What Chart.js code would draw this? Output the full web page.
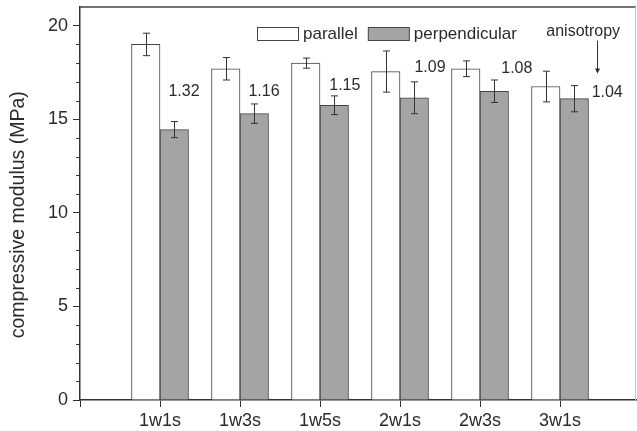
<!DOCTYPE html>
<html>
<head>
<meta charset="utf-8">
<script src="https://cdn.jsdelivr.net/npm/chart.js@4.4.0/dist/chart.umd.min.js"></script>
<style>
  html, body { margin: 0; background: #fff; }
  #wrap { width: 637px; height: 431px; }
</style>
</head>
<body>
<div id="wrap"><canvas id="chart"></canvas></div>
<script>
const samples = ['1w1s', '1w3s', '1w5s', '2w1s', '2w3s', '3w1s'];
const parallel = [19.0, 17.7, 18.0, 17.55, 17.7, 16.75];
const parallelErr = [0.6, 0.6, 0.27, 1.1, 0.42, 0.82];
const perpendicular = [14.45, 15.3, 15.75, 16.15, 16.5, 16.1];
const perpendicularErr = [0.43, 0.52, 0.5, 0.85, 0.6, 0.7];
const anisotropy = ['1.32', '1.16', '1.15', '1.09', '1.08', '1.04'];
const yTicks = [0, 5, 10, 15, 20];

// where the ratio labels sit, in axis units (x = sample index, y = MPa)
const ratioAt = [[0.3, 16.5], [1.3, 16.5], [2.31, 16.8], [3.375, 17.75], [4.46, 17.7], [5.59, 16.45]];

const INK = '#2b2b2b';
const FONT = '"Liberation Sans", Arial, sans-serif';
Chart.defaults.font.family = FONT;
Chart.defaults.color = INK;

const errorBars = {
  id: 'errorBars',
  afterDatasetsDraw(chart) {
    const { ctx, scales: { y } } = chart;
    ctx.save();
    ctx.strokeStyle = '#333';
    ctx.lineWidth = 1;
    chart.data.datasets.forEach((ds, di) => {
      chart.getDatasetMeta(di).data.forEach((bar, i) => {
        const v = ds.data[i].y, e = ds.errors[i];
        const top = y.getPixelForValue(v + e), bot = y.getPixelForValue(v - e);
        const x = Math.round(bar.x) + 0.5;
        ctx.beginPath();
        ctx.moveTo(x, top); ctx.lineTo(x, bot);
        ctx.moveTo(x - 3.5, top); ctx.lineTo(x + 3.5, top);
        ctx.moveTo(x - 3.5, bot); ctx.lineTo(x + 3.5, bot);
        ctx.stroke();
      });
    });
    ctx.restore();
  }
};

const extras = {
  id: 'extras',
  afterDraw(chart) {
    const { ctx, chartArea: a, scales: { x, y } } = chart;
    ctx.save();
    // frame: top and right edge
    ctx.strokeStyle = '#444';
    ctx.lineWidth = 1.5;
    ctx.beginPath();
    ctx.moveTo(a.left, a.top); ctx.lineTo(a.right, a.top);
    ctx.stroke();
    ctx.strokeStyle = '#c8c8c8';
    ctx.lineWidth = 1;
    ctx.beginPath();
    ctx.moveTo(a.right - 0.5, a.top); ctx.lineTo(a.right - 0.5, a.bottom);
    ctx.stroke();

    // minor ticks on y
    ctx.strokeStyle = '#333';
    ctx.lineWidth = 1;
    for (let v = 1; v < 21; v++) {
      if (v % 5 === 0) continue;
      const py = Math.round(y.getPixelForValue(v)) + 0.5;
      ctx.beginPath();
      ctx.moveTo(a.left - 4, py); ctx.lineTo(a.left, py);
      ctx.stroke();
    }

    // y axis title, sits a little below the axis middle like the original
    ctx.fillStyle = INK;
    ctx.save();
    ctx.translate(19, y.getPixelForValue(9.9));
    ctx.rotate(-Math.PI / 2);
    ctx.font = '19.5px ' + FONT;
    ctx.textAlign = 'center';
    ctx.textBaseline = 'middle';
    ctx.fillText('compressive modulus (MPa)', 0, 0);
    ctx.restore();

    // anisotropy ratios
    ctx.font = '16px ' + FONT;
    ctx.textAlign = 'center';
    ctx.textBaseline = 'middle';
    anisotropy.forEach((t, i) => {
      ctx.fillText(t, x.getPixelForValue(ratioAt[i][0]), y.getPixelForValue(ratioAt[i][1]));
    });
    ctx.fillText('anisotropy', x.getPixelForValue(5.29), y.getPixelForValue(19.68));

    // arrow
    const ax = Math.round(x.getPixelForValue(5.46)) + 0.5;
    const ay0 = y.getPixelForValue(19.2), ay1 = y.getPixelForValue(17.45);
    ctx.beginPath();
    ctx.moveTo(ax, ay0); ctx.lineTo(ax, ay1 - 4);
    ctx.stroke();
    ctx.beginPath();
    ctx.moveTo(ax - 2.5, ay1 - 5); ctx.lineTo(ax + 2.5, ay1 - 5); ctx.lineTo(ax, ay1);
    ctx.closePath();
    ctx.fill();

    // legend
    ctx.font = '17px ' + FONT;
    ctx.textAlign = 'left';
    const ly = a.top + 20, lx = a.left + 177;
    let cx = lx;
    chart.data.datasets.forEach((ds) => {
      ctx.fillStyle = ds.backgroundColor;
      ctx.fillRect(cx + 0.5, ly + 0.5, 41, 13);
      ctx.strokeStyle = '#444';
      ctx.strokeRect(cx + 0.5, ly + 0.5, 41, 13);
      ctx.fillStyle = INK;
      ctx.fillText(ds.label, cx + 46, ly + 7);
      cx += 46 + ctx.measureText(ds.label).width + 10;
    });
    ctx.restore();
  }
};

new Chart(document.getElementById('chart'), {
  type: 'bar',
  data: {
    datasets: [
      {
        label: 'parallel',
        data: parallel.map((v, i) => ({ x: i, y: v })),
        errors: parallelErr,
        backgroundColor: '#ffffff',
        borderColor: '#444',
        borderWidth: 1,
        barThickness: 28.5,
      },
      {
        label: 'perpendicular',
        data: perpendicular.map((v, i) => ({ x: i, y: v })),
        errors: perpendicularErr,
        backgroundColor: '#a4a4a4',
        borderColor: '#444',
        borderWidth: 1,
        barThickness: 28.5,
      },
    ],
  },
  options: {
    responsive: true,
    maintainAspectRatio: false,
    animation: false,
    layout: { padding: { top: 7, right: 1, left: 0, bottom: 0 } },
    plugins: { legend: { display: false }, tooltip: { enabled: false } },
    scales: {
      x: {
        type: 'linear',
        min: -1,
        max: 5.95,
        offset: false,
        afterBuildTicks: (s) => { s.ticks = [-1, 0, 1, 2, 3, 4, 5].map(v => ({ value: v })); },
        afterFit: (s) => { s.height = 31; s.paddingLeft = 0; s.paddingRight = 0; },
        ticks: { callback: (v) => samples[v] ?? '', font: { size: 18 }, padding: 3, maxRotation: 0, autoSkip: false },
        grid: { offset: false, drawOnChartArea: false, tickLength: 7, tickColor: '#333', tickWidth: 1 },
        border: { color: '#333', width: 1.5 },
      },
      y: {
        min: 0,
        max: 21,
        afterBuildTicks: (s) => { s.ticks = yTicks.map(v => ({ value: v })); },
        afterFit: (s) => { s.width = 80; s.paddingTop = 0; s.paddingBottom = 0; },
        ticks: { font: { size: 18 }, padding: 5 },
        grid: { drawOnChartArea: false, tickLength: 7, tickColor: '#333', tickWidth: 1 },
        border: { color: '#333', width: 1.5 },
      },
    },
  },
  plugins: [errorBars, extras],
});
</script>
</body>
</html>
